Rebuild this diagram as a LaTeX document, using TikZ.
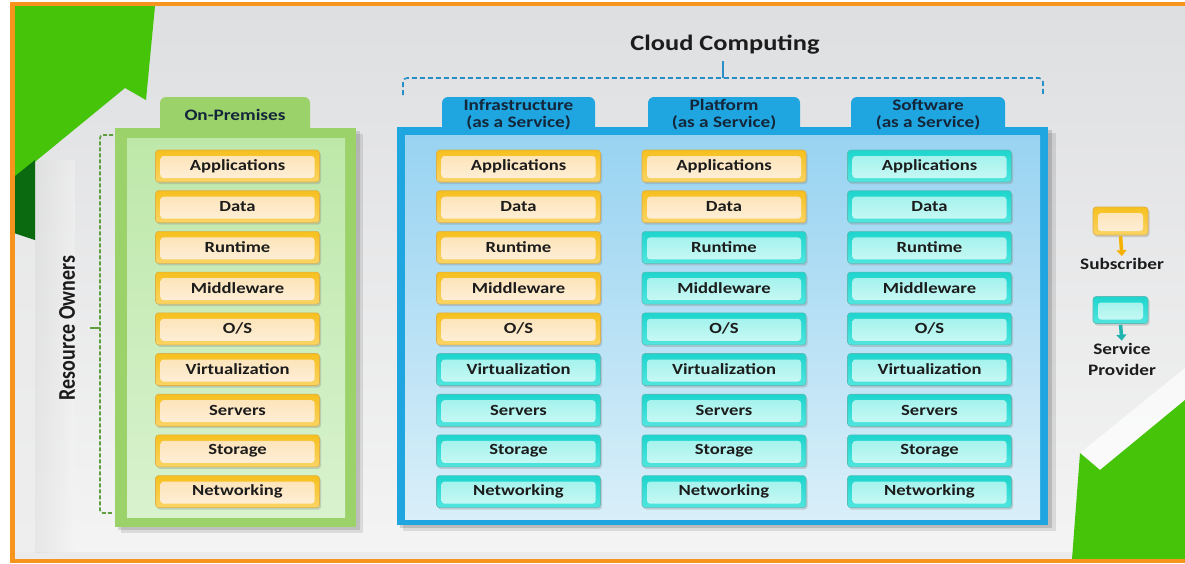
\documentclass[tikz,border=0pt]{standalone}
\usepackage{fontspec}
\setmainfont{Carlito}
\newfontfamily\cf[FakeStretch=1.2]{Carlito}
\usetikzlibrary{shadows,arrows.meta}
\definecolor{frameor}{HTML}{F7941D}
\definecolor{bgtop}{HTML}{DEDFE1}
\definecolor{bgbot}{HTML}{F4F4F4}
\definecolor{grlight}{HTML}{45C40A}
\definecolor{grdark}{HTML}{0B6A10}
\definecolor{gband}{HTML}{9CD26A}
\definecolor{gintop}{HTML}{BEE8AA}
\definecolor{ginbot}{HTML}{D8F2CE}
\definecolor{bband}{HTML}{1FA5DF}
\definecolor{bintop}{HTML}{98D3F1}
\definecolor{binbot}{HTML}{D9EFF9}
\definecolor{ortop}{HTML}{F6C01E}
\definecolor{orbot}{HTML}{FAD464}
\definecolor{orintop}{HTML}{FDE2B3}
\definecolor{orinbot}{HTML}{FEF0DB}
\definecolor{ordraw}{HTML}{DDB04A}
\definecolor{cytop}{HTML}{1ED5CD}
\definecolor{cybot}{HTML}{50E6DF}
\definecolor{cyintop}{HTML}{9CF1EB}
\definecolor{cyinbot}{HTML}{CCF9F5}
\definecolor{cydraw}{HTML}{5CBDB8}
\definecolor{txt}{HTML}{1C1C1C}
\definecolor{tabtxt}{HTML}{14263A}
\definecolor{cbr}{HTML}{2B8FC7}
\definecolor{gbr}{HTML}{5E9E3C}
\definecolor{subarr}{HTML}{F5B000}
\definecolor{sprarr}{HTML}{1FB5AE}
\tikzset{
  boxbase/.style={rounded corners=3, minimum width=164, minimum height=32, inner sep=0,
    line width=0.6, text=txt, font=\cf\bfseries\fontsize{15.5}{17}\selectfont,
    drop shadow={shadow xshift=1.5pt, shadow yshift=-2pt, opacity=0.3}},
  obox/.style={boxbase, top color=ortop, bottom color=orbot, draw=ordraw,
    path picture={\shade[top color=orintop, bottom color=orinbot]
      ([xshift=5pt,yshift=4pt]path picture bounding box.south west) rectangle
      ([xshift=-5pt,yshift=-6pt]path picture bounding box.north east);}},
  cbox/.style={boxbase, top color=cytop, bottom color=cybot, draw=cydraw,
    path picture={\shade[top color=cyintop, bottom color=cyinbot]
      ([xshift=5pt,yshift=4pt]path picture bounding box.south west) rectangle
      ([xshift=-5pt,yshift=-6pt]path picture bounding box.north east);}},
  tabtext/.style={align=center, text=tabtxt, inner sep=0, font=\cf\bfseries\fontsize{16}{17}\selectfont},
  legtext/.style={text=txt, inner sep=0, font=\cf\bfseries\fontsize{16}{18}\selectfont},
  cbrace/.style={cbr, dashed, dash pattern=on 5pt off 3pt, line width=1.6, rounded corners=4},
  gbrace/.style={gbr, dashed, dash pattern=on 4pt off 2pt, line width=1.6, rounded corners=3},
}
\begin{document}
\begin{tikzpicture}[x=1pt,y=-1pt]
\useasboundingbox (0,0) rectangle (1185,563);
% background
\fill[white] (0,0) rectangle (1185,563);
\shade[top color=bgtop, bottom color=bgbot] (12,4) rectangle (1185,561);
\fill[black!8] (14,552) rectangle (1185,559);
% left curl shading
\shade[left color=black!14, right color=bgbot, opacity=0.5] (35,160) rectangle (75,552);
\fill[white!92!black, opacity=0.6] (14,232) rectangle (35,552);
% top-left green arrow
\fill[grlight] (14,6) -- (155,6) -- (146,100) -- (125,88) -- (14,179) -- cycle;
\fill[grdark] (14,177) -- (35,160) -- (35,240) -- (14,233) -- cycle;
% bottom-right green arrow
\fill[white, opacity=0.7] (1080,453) -- (1185,368) -- (1185,400) -- (1100,470) -- cycle;
\fill[grlight] (1080,453) -- (1100,470) -- (1185,400) -- (1185,559) -- (1072,559) -- cycle;
% frame
\draw[frameor, line width=4.5] (1190,4) -- (12.5,4) -- (12.5,561) -- (1190,561);

% On-Premises panel
\fill[black, opacity=0.10] (121,134) rectangle (363,533);
\fill[black, opacity=0.12] (118,131) rectangle (360,530);
\fill[gband, rounded corners=6] (160,134) -- (160,97) -- (310,97) -- (310,134) -- cycle;
\fill[gband] (115,128) rectangle (356,527);
\shade[top color=gintop, bottom color=ginbot] (127,138) rectangle (345,517);
\node[tabtext] (tOn) at (235,115) {On-Premises};

% Cloud panel
\fill[black, opacity=0.10] (403,133) rectangle (1056,531);
\fill[black, opacity=0.14] (400,130) rectangle (1052,528);
\fill[bband, rounded corners=6] (442,134) -- (442,97) -- (595,97) -- (595,134) -- cycle;
\fill[bband, rounded corners=6] (648,134) -- (648,97) -- (800,97) -- (800,134) -- cycle;
\fill[bband, rounded corners=6] (851,134) -- (851,97) -- (1005,97) -- (1005,134) -- cycle;
\fill[bband] (397,127) rectangle (1048,525);
\shade[top color=bintop, bottom color=binbot] (405,135) rectangle (1040,519);
\node[tabtext] (tIaaS) at (518.5,115) {Infrastructure\\(as a Service)};
\node[tabtext] (tPaaS) at (724,115) {Platform\\(as a Service)};
\node[tabtext] (tSaaS) at (928,115) {Software\\(as a Service)};

% Cloud Computing label and brace
\node[text=txt, inner sep=0, font=\cf\bfseries\fontsize{22}{24}\selectfont] (cc) at (725,45) {Cloud Computing};
\coordinate (ccl) at (403,95);
\coordinate (ccr) at (1043,95);
\coordinate (ccm) at (723,78);
\coordinate (cctick) at (723,61);
\draw[cbrace] (ccl) -- (403,78) -- (1043,78) -- (ccr);
\draw[cbr, line width=1.8] (ccm) -- (cctick);

% Resource Owners brace
\coordinate (rot) at (113,135);
\coordinate (rob) at (113,513);
\coordinate (rom) at (100,328);
\coordinate (rotick) at (90,328);
\draw[gbrace] (rot) -- (100,135) -- (100,513) -- (rob);
\draw[gbr, line width=1.6] (rom) -- (rotick);
\node[rotate=90, text=txt, inner sep=0, font=\fontsize{20}{22}\selectfont\bfseries] (ro) at (67,328) {\scalebox{1}[1.2]{Resource Owners}};

% boxes
\foreach \t [count=\i] in {Applications,Data,Runtime,Middleware,O/S,Virtualization,Servers,Storage,Networking} {
  \pgfmathsetmacro\yy{166+40.7*(\i-1)}
  \node[obox] (op\i) at (237.5,\yy) {\t};
  \ifnum\i<6
    \node[obox] (ia\i) at (518.5,\yy) {\t};
  \else
    \node[cbox] (ia\i) at (518.5,\yy) {\t};
  \fi
  \ifnum\i<3
    \node[obox] (pa\i) at (724,\yy) {\t};
  \else
    \node[cbox] (pa\i) at (724,\yy) {\t};
  \fi
  \node[cbox] (sa\i) at (929.5,\yy) {\t};
}

% legend
\node[obox, minimum width=55, minimum height=28] (lsub) at (1120.5,221) {};
\node[legtext] (tsub) at (1122,264) {Subscriber};
\node[cbox, minimum width=55, minimum height=27] (lspr) at (1120.5,310) {};
\node[legtext, align=center] (tspr) at (1122,359) {Service\\[3pt]Provider};
\draw[subarr, line width=3.5, -{Triangle[width=10pt,length=6pt]}, shorten <=1pt, shorten >=2pt] (lsub.south) -- (tsub.north);
\draw[sprarr, line width=3.5, -{Triangle[width=10pt,length=6pt]}, shorten <=1pt, shorten >=2pt] (lspr.south) -- (tspr.north);
\end{tikzpicture}
\end{document}
